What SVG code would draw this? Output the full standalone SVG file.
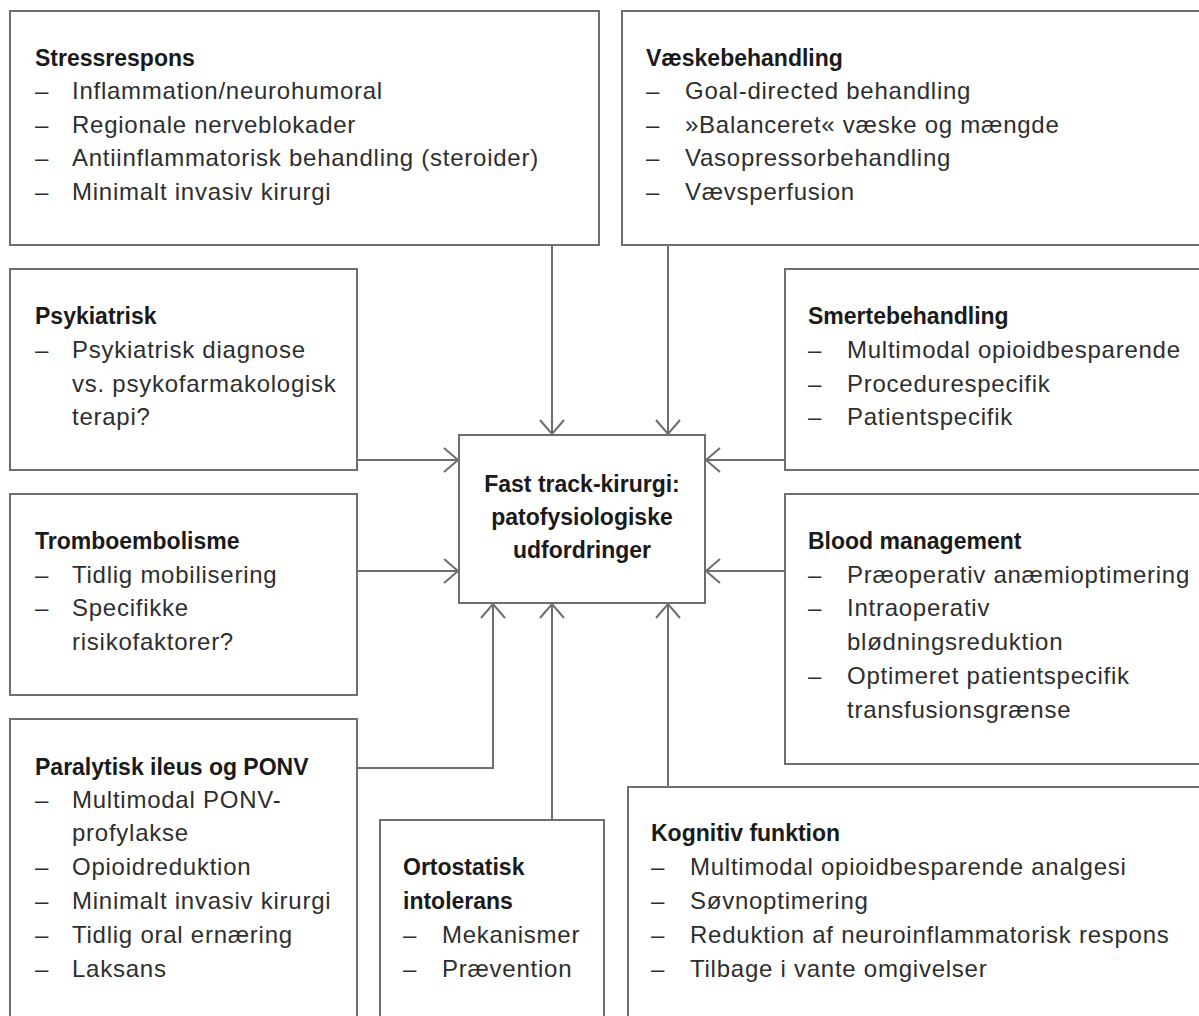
<svg xmlns="http://www.w3.org/2000/svg" width="1199" height="1016" viewBox="0 0 1199 1016">
<defs>
<style>
.box{fill:#fff;stroke:#6e6e6e;stroke-width:2}
.t{font-family:"Liberation Sans",Arial,sans-serif;font-size:23px;font-weight:bold;fill:#1a1a1a}
.i{font-family:"Liberation Sans",Arial,sans-serif;font-size:24px;fill:#2e2e2e;letter-spacing:0.75px}
.c{font-family:"Liberation Sans",Arial,sans-serif;font-size:23px;font-weight:bold;fill:#1a1a1a;text-anchor:middle}
.con{fill:none;stroke:#6e6e6e;stroke-width:2;marker-end:url(#ah)}
</style>
<marker id="ah" markerUnits="userSpaceOnUse" viewBox="-17 -15 19 30" refX="0" refY="0" markerWidth="19" markerHeight="30" orient="auto">
<path d="M-14,-12 L0,0 L-14,12" fill="none" stroke="#6e6e6e" stroke-width="2"/>
</marker>
</defs>
<rect width="1199" height="1016" fill="#fff"/>

<g id="connectors">
<path class="con" d="M552,245 V434"/>
<path class="con" d="M668,245 V434"/>
<path class="con" d="M357,460 H458"/>
<path class="con" d="M785,460 H706"/>
<path class="con" d="M357,571 H458"/>
<path class="con" d="M785,571 H706"/>
<path class="con" d="M357,768 H493 V604"/>
<path class="con" d="M552,820 V604"/>
<path class="con" d="M668,787 V604"/>
</g>

<g id="center">
<rect class="box" x="459" y="435" width="246" height="168"/>
<text class="c" x="582" y="492">Fast track-kirurgi:</text>
<text class="c" x="582" y="525">patofysiologiske</text>
<text class="c" x="582" y="558">udfordringer</text>
</g>

<g id="stressrespons">
<rect class="box" x="10" y="11" width="589" height="234"/>
<text class="t" x="35" y="66">Stressrespons</text>
<text class="i"><tspan x="35" y="99">–</tspan><tspan x="72" y="99">Inflammation/neurohumoral</tspan></text>
<text class="i"><tspan x="35" y="133">–</tspan><tspan x="72" y="133">Regionale nerveblokader</tspan></text>
<text class="i"><tspan x="35" y="166">–</tspan><tspan x="72" y="166">Antiinflammatorisk behandling (steroider)</tspan></text>
<text class="i"><tspan x="35" y="200">–</tspan><tspan x="72" y="200">Minimalt invasiv kirurgi</tspan></text>
</g>

<g id="vaeskebehandling">
<rect class="box" x="622" y="11" width="600" height="234"/>
<text class="t" x="646" y="66">Væskebehandling</text>
<text class="i"><tspan x="646" y="99">–</tspan><tspan x="685" y="99">Goal-directed behandling</tspan></text>
<text class="i"><tspan x="646" y="133">–</tspan><tspan x="685" y="133">»Balanceret« væske og mængde</tspan></text>
<text class="i"><tspan x="646" y="166">–</tspan><tspan x="685" y="166">Vasopressorbehandling</tspan></text>
<text class="i"><tspan x="646" y="200">–</tspan><tspan x="685" y="200">Vævsperfusion</tspan></text>
</g>

<g id="psykiatrisk">
<rect class="box" x="10" y="269" width="347" height="201"/>
<text class="t" x="35" y="324">Psykiatrisk</text>
<text class="i"><tspan x="35" y="358">–</tspan><tspan x="72" y="358">Psykiatrisk diagnose</tspan></text>
<text class="i" x="72" y="392">vs. psykofarmakologisk</text>
<text class="i" x="72" y="425">terapi?</text>
</g>

<g id="smertebehandling">
<rect class="box" x="785" y="269" width="437" height="201"/>
<text class="t" x="808" y="324">Smertebehandling</text>
<text class="i"><tspan x="808" y="358">–</tspan><tspan x="847" y="358">Multimodal opioidbesparende</tspan></text>
<text class="i"><tspan x="808" y="392">–</tspan><tspan x="847" y="392">Procedurespecifik</tspan></text>
<text class="i"><tspan x="808" y="425">–</tspan><tspan x="847" y="425">Patientspecifik</tspan></text>
</g>

<g id="tromboembolisme">
<rect class="box" x="10" y="494" width="347" height="201"/>
<text class="t" x="35" y="549">Tromboembolisme</text>
<text class="i"><tspan x="35" y="583">–</tspan><tspan x="72" y="583">Tidlig mobilisering</tspan></text>
<text class="i"><tspan x="35" y="616">–</tspan><tspan x="72" y="616">Specifikke</tspan></text>
<text class="i" x="72" y="650">risikofaktorer?</text>
</g>

<g id="blood-management">
<rect class="box" x="785" y="494" width="437" height="270"/>
<text class="t" x="808" y="549">Blood management</text>
<text class="i"><tspan x="808" y="583">–</tspan><tspan x="847" y="583">Præoperativ anæmioptimering</tspan></text>
<text class="i"><tspan x="808" y="616">–</tspan><tspan x="847" y="616">Intraoperativ</tspan></text>
<text class="i" x="847" y="650">blødningsreduktion</text>
<text class="i"><tspan x="808" y="684">–</tspan><tspan x="847" y="684">Optimeret patientspecifik</tspan></text>
<text class="i" x="847" y="718">transfusionsgrænse</text>
</g>

<g id="paralytisk-ileus">
<rect class="box" x="10" y="719" width="347" height="320"/>
<text class="t" x="35" y="775">Paralytisk ileus og PONV</text>
<text class="i"><tspan x="35" y="808">–</tspan><tspan x="72" y="808">Multimodal PONV-</tspan></text>
<text class="i" x="72" y="841">profylakse</text>
<text class="i"><tspan x="35" y="875">–</tspan><tspan x="72" y="875">Opioidreduktion</tspan></text>
<text class="i"><tspan x="35" y="909">–</tspan><tspan x="72" y="909">Minimalt invasiv kirurgi</tspan></text>
<text class="i"><tspan x="35" y="943">–</tspan><tspan x="72" y="943">Tidlig oral ernæring</tspan></text>
<text class="i"><tspan x="35" y="977">–</tspan><tspan x="72" y="977">Laksans</tspan></text>
</g>

<g id="ortostatisk">
<rect class="box" x="380" y="820" width="224" height="220"/>
<text class="t" x="403" y="875">Ortostatisk</text>
<text class="t" x="403" y="909">intolerans</text>
<text class="i"><tspan x="403" y="943">–</tspan><tspan x="442" y="943">Mekanismer</tspan></text>
<text class="i"><tspan x="403" y="977">–</tspan><tspan x="442" y="977">Prævention</tspan></text>
</g>

<g id="kognitiv">
<rect class="box" x="628" y="787" width="594" height="252"/>
<text class="t" x="651" y="841">Kognitiv funktion</text>
<text class="i"><tspan x="651" y="875">–</tspan><tspan x="690" y="875">Multimodal opioidbesparende analgesi</tspan></text>
<text class="i"><tspan x="651" y="909">–</tspan><tspan x="690" y="909">Søvnoptimering</tspan></text>
<text class="i"><tspan x="651" y="943">–</tspan><tspan x="690" y="943">Reduktion af neuroinflammatorisk respons</tspan></text>
<text class="i"><tspan x="651" y="977">–</tspan><tspan x="690" y="977">Tilbage i vante omgivelser</tspan></text>
</g>
</svg>
